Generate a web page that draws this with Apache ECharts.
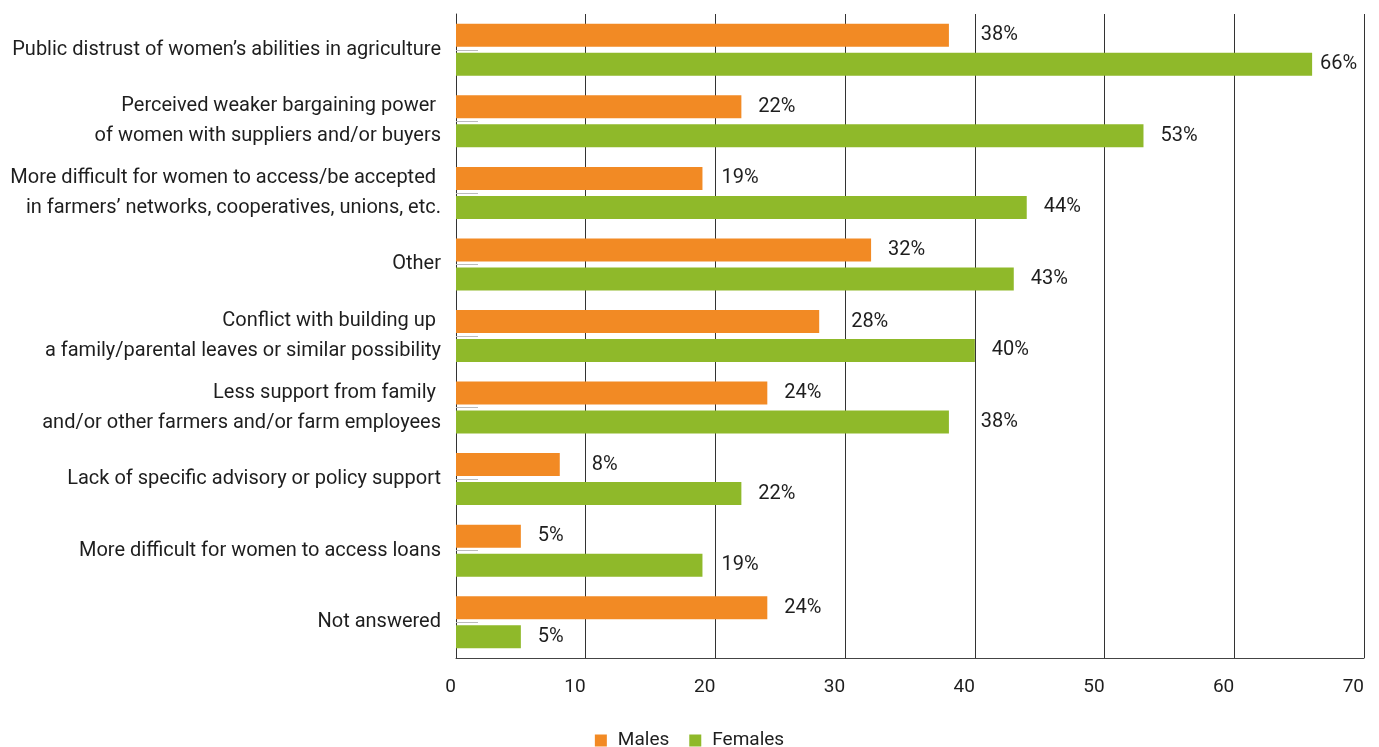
<!DOCTYPE html>
<html>
<head>
<meta charset="utf-8">
<script src="https://cdn.jsdelivr.net/npm/echarts@6/dist/echarts.min.js"></script>
<style>
  html, body { margin: 0; padding: 0; background: #fff; }
  #chart { width: 1379px; height: 747px; }
</style>
</head>
<body>
<div id="chart"></div>
<script>
// Barriers reported, by gender (% of respondents)
const categories = [
  'Public distrust of women\u2019s abilities in agriculture',
  'Perceived weaker bargaining power \nof women with suppliers and/or buyers',
  'More difficult for women to access/be accepted \nin farmers\u2019 networks, cooperatives, unions, etc.',
  'Other',
  'Conflict with building up \na family/parental leaves or similar possibility',
  'Less support from family \nand/or other farmers and/or farm employees',
  'Lack of specific advisory or policy support',
  'More difficult for women to access loans',
  'Not answered'
];
const males = [38, 22, 19, 32, 28, 24, 8, 5, 24];
const females = [66, 53, 44, 43, 40, 38, 22, 19, 5];
const xTicks = [0, 10, 20, 30, 40, 50, 60, 70];

const FONT = 'Roboto, "Noto Sans", sans-serif';
const GRID = { left: 456, right: 15, top: 14, bottom: 89 };
const X_MAX = 70;
const pxPerUnit = (1379 - GRID.left - GRID.right) / X_MAX;
const LABEL_W = 38;

// Keep value labels clear of the vertical grid lines and inside the plot
function labelDistance(v) {
  const base = 17;
  const next = Math.floor(v / 10) * 10 + 10;
  const gap = (next - v) * pxPerUnit;
  if (next < X_MAX && gap < base + LABEL_W) return gap + 6;
  const room = (X_MAX - v) * pxPerUnit - LABEL_W - 6;
  return Math.max(6, Math.min(base, room));
}

function withLabels(values) {
  return values.map(v => ({
    value: v,
    label: { distance: labelDistance(v) }
  }));
}

const valueLabel = {
  show: true, position: 'right', formatter: '{c}%',
  fontFamily: FONT, fontSize: 20, color: '#1e1e1e'
};

const chart = echarts.init(document.getElementById('chart'));
chart.setOption({
  animation: false,
  textStyle: { fontFamily: FONT },
  color: ['#F28A24', '#8FB92A'],
  legend: {
    bottom: -8,
    left: 'center',
    itemWidth: 12,
    itemHeight: 12,
    itemGap: 20,
    icon: 'rect',
    textStyle: { fontFamily: FONT, fontSize: 19, color: '#1e1e1e', padding: [0, 0, 0, 6] },
    data: ['Males', 'Females']
  },
  grid: GRID,
  xAxis: {
    type: 'value',
    min: 0,
    max: X_MAX,
    interval: 10,
    axisLine: { show: true, lineStyle: { color: '#444', width: 1 } },
    axisTick: { show: false },
    splitLine: { show: true, lineStyle: { color: '#333', width: 1 } },
    axisLabel: {
      fontFamily: FONT, fontSize: 19, color: '#1e1e1e', margin: 20, align: 'right',
      formatter: v => xTicks.includes(v) ? String(v) : ''
    }
  },
  yAxis: {
    type: 'category',
    inverse: true,
    data: categories,
    axisLine: { show: true, lineStyle: { color: '#333', width: 1 } },
    axisTick: { show: true, inside: true, alignWithLabel: true, length: 22, lineStyle: { color: '#bbb' } },
    axisLabel: {
      fontFamily: FONT, fontSize: 20, color: '#1e1e1e', margin: 15, lineHeight: 30
    }
  },
  series: [
    {
      name: 'Males',
      type: 'bar',
      data: withLabels(males),
      barWidth: 23,
      barGap: '26%',
      label: valueLabel
    },
    {
      name: 'Females',
      type: 'bar',
      data: withLabels(females),
      barWidth: 23,
      label: valueLabel
    }
  ]
});
</script>
</body>
</html>
